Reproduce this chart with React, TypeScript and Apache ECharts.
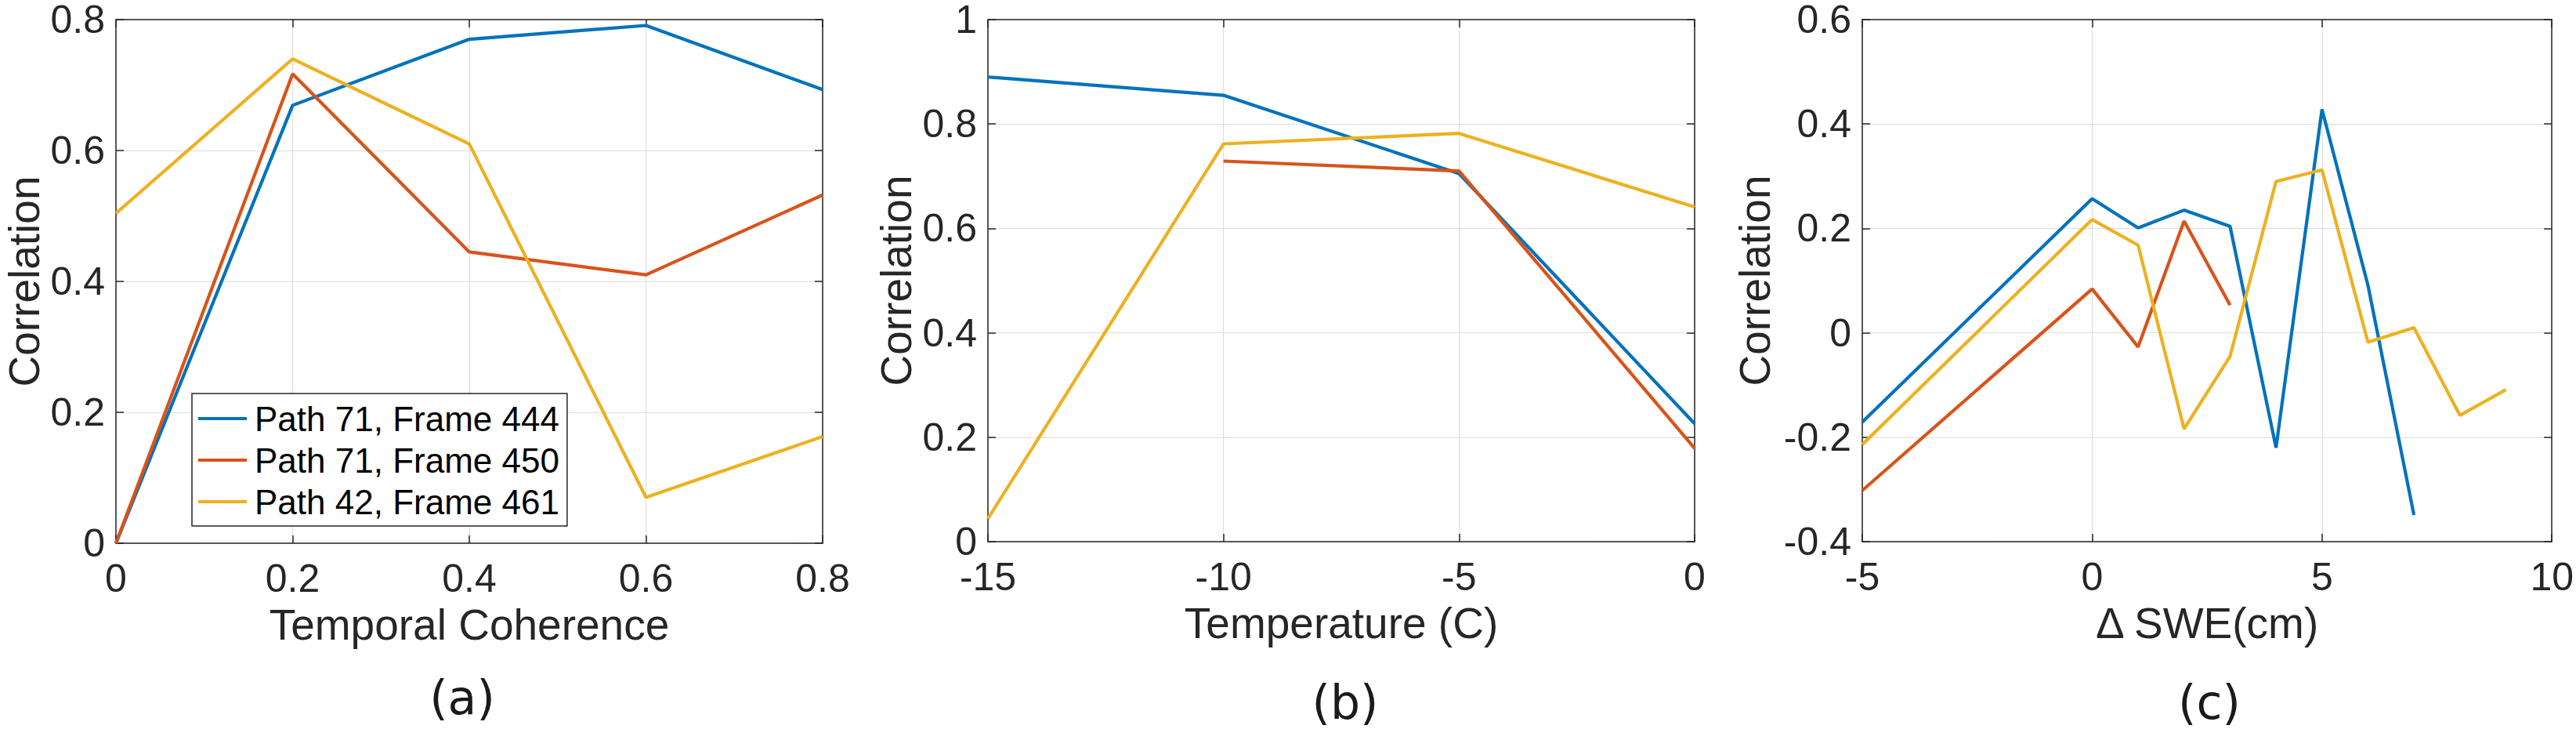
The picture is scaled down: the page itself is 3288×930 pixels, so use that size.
import React, { useEffect, useRef } from "react";
import * as echarts from "echarts";

const FONT = "'Liberation Sans', Arial, Helvetica, sans-serif";
const COLORS = ["#0072BD", "#D95319", "#EDB120"];
const NAMES = ["Path 71, Frame 444", "Path 71, Frame 450", "Path 42, Frame 461"];

// Panel (a): Temporal Coherence
const coherenceX = [0, 0.2, 0.4, 0.6, 0.8];
const coh444 = [0, 0.669, 0.77, 0.791, 0.693];
const coh450 = [0, 0.717, 0.445, 0.41, 0.532];
const coh461 = [0.504, 0.74, 0.61, 0.07, 0.163];

// Panel (b): Temperature (C)
const tempX = [-15, -10, -5, 0];
const temp444 = [0.89, 0.855, 0.705, 0.226];
const temp450 = [null, 0.729, 0.71, 0.179];
const temp461 = [0.044, 0.762, 0.782, 0.641];

// Panel (c): Delta SWE (cm)
const sweX = [-5, 0, 1, 2, 3, 4, 5, 6, 7, 8, 9];
const swe444 = [-0.171, 0.257, 0.201, 0.235, 0.204, -0.22, 0.428, 0.091, -0.349, null, null];
const swe450 = [-0.302, 0.084, -0.027, 0.214, 0.053, null, null, null, null, null, null];
const swe461 = [-0.214, 0.217, 0.168, -0.184, -0.045, 0.29, 0.312, -0.018, 0.01, -0.158, -0.109];

const panelLabels = ["(a)", "(b)", "(c)"];

function pairs(xs: number[], ys: (number | null)[]) {
  return xs.map((x, i) => [x, ys[i]]).filter((p) => p[1] !== null);
}

const AXIS_COLOR = "#262626";
const GRID_COLOR = "#dedede";

function xAxes(gridIndex: number, min: number, max: number, interval: number, name: string) {
  const common = {
    type: "value",
    gridIndex,
    min,
    max,
    interval,
    axisLine: { show: true, onZero: false, lineStyle: { color: AXIS_COLOR, width: 1.5 } },
    axisTick: { show: true, inside: true, length: 10, lineStyle: { color: AXIS_COLOR, width: 1.5 } },
  };
  return [
    {
      ...common,
      position: "bottom",
      axisLabel: {
        fontSize: 50,
        lineHeight: 40,
        color: AXIS_COLOR,
        fontFamily: FONT,
        margin: 25,
        showMinLabel: true,
        showMaxLabel: true,
      },
      splitLine: { show: true, lineStyle: { color: GRID_COLOR, width: 1.2 } },
      name,
      nameLocation: "middle",
      nameGap: 82,
      nameTextStyle: { fontSize: 55, lineHeight: 44, color: AXIS_COLOR, fontFamily: FONT },
    },
    {
      ...common,
      position: "top",
      axisLabel: { show: false },
      splitLine: { show: false },
    },
  ];
}

function yAxes(gridIndex: number, min: number, max: number, interval: number, nameGap: number) {
  const common = {
    type: "value",
    gridIndex,
    min,
    max,
    interval,
    axisLine: { show: true, onZero: false, lineStyle: { color: AXIS_COLOR, width: 1.5 } },
    axisTick: { show: true, inside: true, length: 10, lineStyle: { color: AXIS_COLOR, width: 1.5 } },
  };
  return [
    {
      ...common,
      position: "left",
      axisLabel: {
        fontSize: 50,
        lineHeight: 38,
        color: AXIS_COLOR,
        fontFamily: FONT,
        margin: 14,
        showMinLabel: true,
        showMaxLabel: true,
      },
      splitLine: { show: true, lineStyle: { color: GRID_COLOR, width: 1.2 } },
      name: "Correlation",
      nameLocation: "middle",
      nameGap,
      nameTextStyle: { fontSize: 55, lineHeight: 44, color: AXIS_COLOR, fontFamily: FONT },
    },
    {
      ...common,
      position: "right",
      axisLabel: { show: false },
      splitLine: { show: false },
    },
  ];
}

function lineSeries(name: string, color: string, data: any[], axisIdx: number) {
  return {
    type: "line",
    name,
    xAxisIndex: axisIdx,
    yAxisIndex: axisIdx,
    data,
    symbol: "none",
    showSymbol: false,
    lineStyle: { color, width: 4.2 },
    itemStyle: { color },
    z: 3,
  };
}

export default function App() {
  const ref = useRef<HTMLDivElement>(null);

  useEffect(() => {
    if (!ref.current) return;
    const chart = echarts.init(ref.current, undefined, { renderer: "svg" });

    const grids = [
      { left: 148, top: 25, width: 902, height: 668 },
      { left: 1261, top: 23, width: 902, height: 668 },
      { left: 2377, top: 23, width: 882, height: 668 },
    ];

    const xs = [
      ...xAxes(0, 0, 0.8, 0.2, "Temporal Coherence"),
      ...xAxes(1, -15, 0, 5, "Temperature (C)"),
      ...xAxes(2, -5, 10, 5, "\u0394 SWE(cm)"),
    ];
    const ys = [
      ...yAxes(0, 0, 0.8, 0.2, 95),
      ...yAxes(1, 0, 1, 0.2, 95),
      ...yAxes(2, -0.4, 0.6, 0.2, 115),
    ];

    const series = [
      lineSeries(NAMES[0], COLORS[0], pairs(coherenceX, coh444), 0),
      lineSeries(NAMES[1], COLORS[1], pairs(coherenceX, coh450), 0),
      lineSeries(NAMES[2], COLORS[2], pairs(coherenceX, coh461), 0),
      lineSeries(NAMES[0], COLORS[0], pairs(tempX, temp444), 2),
      lineSeries(NAMES[1], COLORS[1], pairs(tempX, temp450), 2),
      lineSeries(NAMES[2], COLORS[2], pairs(tempX, temp461), 2),
      lineSeries(NAMES[0], COLORS[0], pairs(sweX, swe444), 4),
      lineSeries(NAMES[1], COLORS[1], pairs(sweX, swe450), 4),
      lineSeries(NAMES[2], COLORS[2], pairs(sweX, swe461), 4),
    ];

    const labelCenters = [590, 1717, 2820];
    const labelYs = [890, 896, 896];

    chart.setOption({
      animation: false,
      backgroundColor: "#ffffff",
      grid: grids,
      xAxis: xs,
      yAxis: ys,
      series,
      legend: {
        data: NAMES,
        orient: "vertical",
        left: 245,
        top: 502,
        icon: "rect",
        itemWidth: 62,
        itemHeight: 4,
        itemGap: 9,
        padding: [10, 10, 9, 8],
        borderColor: AXIS_COLOR,
        borderWidth: 1.5,
        backgroundColor: "#ffffff",
        selectedMode: false,
        textStyle: { fontSize: 44, lineHeight: 44, color: "#000000", fontFamily: FONT, padding: [0, 0, 0, 5] },
        z: 10,
      },
      graphic: panelLabels.map((t, i) => ({
        type: "text",
        x: labelCenters[i],
        y: labelYs[i],
        style: {
          text: t,
          fontSize: 60,
          fontFamily: "'DejaVu Sans', sans-serif",
          fill: "#1a1a1a",
          align: "center",
          verticalAlign: "middle",
        },
      })),
    });

    return () => chart.dispose();
  }, []);

  return (
    <div
      ref={ref}
      style={{ position: "absolute", left: 0, top: 0, width: 3288, height: 930 }}
    />
  );
}
